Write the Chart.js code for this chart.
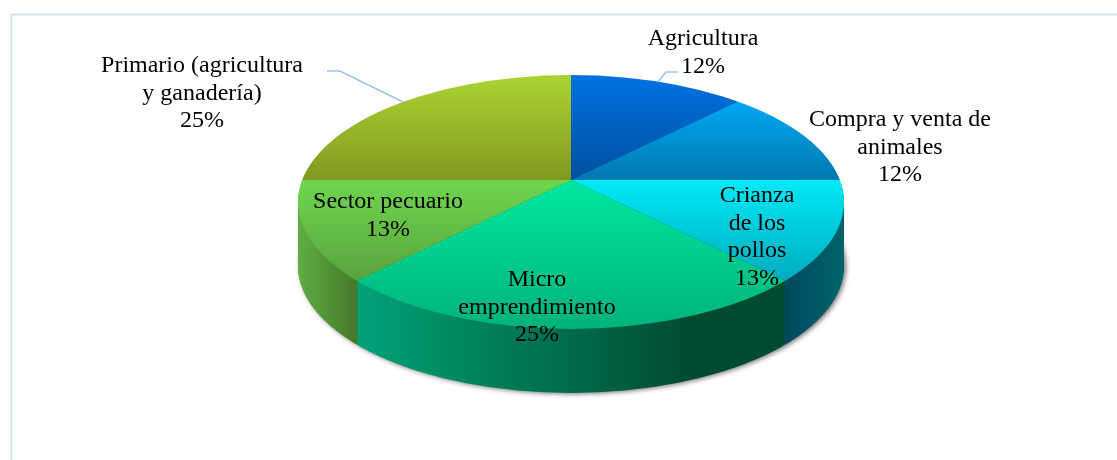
<!DOCTYPE html>
<html lang="es">
<head>
<meta charset="utf-8">
<title>Actividades</title>
<script src="https://cdn.jsdelivr.net/npm/chart.js@4/dist/chart.umd.min.js"></script>
<style>
  html, body { margin: 0; padding: 0; background: #fff; }
  canvas { display: block; }
</style>
</head>
<body>
<canvas id="pieChart" width="1117" height="460"></canvas>
<script>
const categories = [
  ['Agricultura'],
  ['Compra y venta de', 'animales'],
  ['Crianza', 'de los', 'pollos'],
  ['Micro', 'emprendimiento'],
  ['Sector pecuario'],
  ['Primario (agricultura', 'y ganadería)']
];
// slice angles measured on the picture, the printed labels are rounded
const shares = [12.5, 12.5, 12.5, 25, 12.5, 25];
const percentLabels = ['12%', '12%', '13%', '25%', '13%', '25%'];

// top face: vertical gradient [from y, colour, to y, colour]
const topFaces = [
  [75, '#0072e2', 180, '#004f9f'],
  [102, '#00a8f2', 180, '#0078ae'],
  [180, '#00e9f6', 285, '#00a9bc'],
  [180, '#00e8a0', 329, '#00b27c'],
  [180, '#6fd64e', 282, '#58a23e'],
  [75, '#abd332', 180, '#82981f']
];
// side wall: horizontal gradient stops [x, colour]
const walls = [
  [[571, '#004f9f'], [738, '#004f9f']],
  [[738, '#0078ae'], [844, '#0078ae']],
  [[787, '#004a5e'], [844, '#00636a']],
  [[355, '#00a27c'], [450, '#008a5e'], [571, '#006a4a'], [690, '#004a30'], [787, '#004c30']],
  [[298, '#5fae42'], [355, '#467a2c']],
  [[298, '#82981f'], [571, '#82981f']]
];
const labelSpots = [[703, 39], [900, 120], [757, 196], [537, 280], [388, 202], [202, 66]];
const leaderLines = [
  [[327, 71], [340, 71], [403, 102]],
  [[678, 72], [666, 72], [658, 82]]
];

const apexX = 571, apexY = 180;
const rimCY = 202, rimRX = 273, rimRY = 127;
const depth = 64;
const squash = 0.47;
const lineHeight = 27.5;

function rimPath(ctx, offset) {
  ctx.beginPath();
  ctx.ellipse(apexX, rimCY + offset, rimRX, rimRY, 0, 0, Math.PI * 2);
}

// draws one arc element moved onto the tilted disc, clipped by the rim
function drawArc(ctx, arc, offset, fill, k) {
  const saved = arc.options;
  ctx.save();
  rimPath(ctx, offset);
  ctx.clip();
  ctx.translate(apexX, apexY + offset);
  ctx.scale(k, k * squash);
  ctx.translate(-arc.x, -arc.y);
  arc.options = Object.assign({}, saved, { backgroundColor: fill(arc), borderWidth: 0 });
  arc.draw(ctx);
  arc.options = saved;
  ctx.restore();
}

const pie3d = {
  id: 'pie3d',
  beforeDraw(chart) {
    const ctx = chart.ctx;
    ctx.save();
    ctx.fillStyle = '#fff';
    ctx.fillRect(0, 0, chart.width, chart.height);
    ctx.strokeStyle = '#d5e3f6';
    ctx.lineWidth = 2;
    ctx.beginPath();
    ctx.moveTo(11.5, chart.height);
    ctx.lineTo(11.5, 14.5);
    ctx.lineTo(chart.width, 14.5);
    ctx.stroke();
    ctx.restore();
  },
  beforeDatasetsDraw(chart) {
    const ctx = chart.ctx;
    const arcs = chart.getDatasetMeta(0).data;
    const k = 345 / arcs[0].outerRadius;

    // soft shadow under the cylinder
    ctx.save();
    ctx.shadowColor = 'rgba(0,0,0,0.55)';
    ctx.shadowBlur = 5;
    ctx.shadowOffsetX = 2;
    ctx.shadowOffsetY = 2;
    ctx.fillStyle = '#555';
    rimPath(ctx, depth - 1);
    ctx.fill();
    ctx.restore();

    // side wall, swept from the bottom up
    for (let d = depth; d >= 1; d--) {
      arcs.forEach((arc, i) => {
        drawArc(ctx, arc, d, a => {
          const x0 = a.x + (walls[i][0][0] - apexX) / k;
          const x1 = a.x + (walls[i][walls[i].length - 1][0] - apexX) / k;
          const g = ctx.createLinearGradient(x0, 0, x1, 0);
          const from = walls[i][0][0];
          const span = walls[i][walls[i].length - 1][0] - from;
          walls[i].forEach(s => g.addColorStop((s[0] - from) / span, s[1]));
          return g;
        }, k);
      });
    }

    // top face
    arcs.forEach((arc, i) => {
      drawArc(ctx, arc, 0, a => {
        const f = topFaces[i];
        const toLocal = y => a.y + (y - apexY) / (k * squash);
        const g = ctx.createLinearGradient(0, toLocal(f[0]), 0, toLocal(f[2]));
        g.addColorStop(0, f[1]);
        g.addColorStop(1, f[3]);
        return g;
      }, k);
    });
    return false;
  },
  afterDraw(chart) {
    const ctx = chart.ctx;
    ctx.save();
    ctx.strokeStyle = '#9dc3ea';
    ctx.lineWidth = 1.6;
    leaderLines.forEach(line => {
      ctx.beginPath();
      line.forEach((p, n) => n ? ctx.lineTo(p[0], p[1]) : ctx.moveTo(p[0], p[1]));
      ctx.stroke();
    });
    ctx.fillStyle = '#000';
    ctx.font = '24px "Liberation Serif"';
    ctx.textAlign = 'center';
    ctx.textBaseline = 'middle';
    chart.data.labels.forEach((lines, i) => {
      const rows = lines.concat(percentLabels[i]);
      rows.forEach((row, n) => {
        ctx.fillText(row, labelSpots[i][0], labelSpots[i][1] + n * lineHeight);
      });
    });
    ctx.restore();
  }
};

new Chart(document.getElementById('pieChart'), {
  type: 'pie',
  data: {
    labels: categories,
    datasets: [{
      data: shares,
      backgroundColor: topFaces.map(f => f[1]),
      borderWidth: 0
    }]
  },
  options: {
    responsive: false,
    animation: false,
    plugins: {
      legend: { display: false },
      tooltip: { enabled: false }
    }
  },
  plugins: [pie3d]
});
</script>
</body>
</html>
